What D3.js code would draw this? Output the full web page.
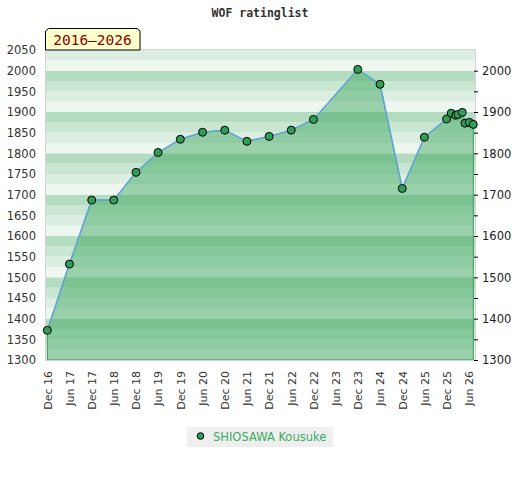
<!DOCTYPE html>
<html>
<head>
<meta charset="utf-8">
<script src="https://cdn.jsdelivr.net/npm/d3@7"></script>
<style>
body { margin: 0; background: #fff; }
</style>
</head>
<body>
<script>
var w = 520, h = 480;

// rating history
var dates = ["2016-12-01", "2017-06-01", "2017-12-01", "2018-06-01", "2018-12-01", "2019-06-01",
    "2019-12-01", "2020-06-01", "2020-12-01", "2021-06-01", "2021-12-01", "2022-06-01",
    "2022-12-01", "2023-12-01", "2024-06-01", "2024-12-01", "2025-06-01", "2025-12-01",
    "2026-01-08", "2026-02-14", "2026-03-05", "2026-04-09", "2026-05-02", "2026-06-06", "2026-07-09"];
var ratings = [1372, 1532, 1687, 1687, 1754, 1802, 1834, 1851, 1856, 1829, 1841, 1856,
    1882, 2003, 1967, 1715, 1839, 1883, 1897, 1892, 1894, 1899, 1873, 1875, 1870];

var playerName = "SHIOSAWA Kousuke";
var titleText = "WOF ratinglist";
var periodText = "2016–2026";

var tickDates = ["2016-12-01", "2017-06-01", "2017-12-01", "2018-06-01", "2018-12-01", "2019-06-01",
    "2019-12-01", "2020-06-01", "2020-12-01", "2021-06-01", "2021-12-01", "2022-06-01",
    "2022-12-01", "2023-06-01", "2023-12-01", "2024-06-01", "2024-12-01", "2025-06-01",
    "2025-12-01", "2026-06-01"];
var leftTicks = [1300, 1350, 1400, 1450, 1500, 1550, 1600, 1650, 1700, 1750, 1800, 1850, 1900, 1950, 2000, 2050];
var rightTicks = [1300, 1400, 1500, 1600, 1700, 1800, 1900, 2000];
var rightMinor = [1350, 1450, 1550, 1650, 1750, 1850, 1950];

var bandColors = ["#eef6f0", "#dcede2", "#c8e6d1", "#b4dcc1"];

var parse = d3.timeParse("%Y-%m-%d");
var data = dates.map((d, i) => ({date: parse(d), value: ratings[i]}));

var pLeft = 46, pRight = 475, pTop = 50, pBottom = 360;

var svg = d3.select("body")
    .append("svg")
    .attr("width", w)
    .attr("height", h);

var xScale = d3.scaleTime()
    .domain([parse("2016-11-20"), parse("2026-07-23")])
    .range([pLeft, pRight]);

var yScale = d3.scaleLinear()
    .domain([1300, 2050])
    .range([pBottom, pTop]);

svg.append("text")
    .text(titleText)
    .attr("x", 260)
    .attr("y", 17)
    .attr("text-anchor", "middle")
    .style("font-family", "DejaVu Sans Mono")
    .style("font-weight", "bold")
    .style("font-size", "11.5px")
    .style("fill", "#333");

// striped background, 25 points per band
var bands = d3.range(1300, 2050, 25);
svg.append("g")
    .selectAll("rect")
    .data(bands)
    .enter()
    .append("rect")
    .attr("x", pLeft)
    .attr("width", pRight - pLeft)
    .attr("y", d => yScale(d + 25))
    .attr("height", d => yScale(d) - yScale(d + 25))
    .style("fill", d => bandColors[(d % 100) / 25]);

var area = d3.area()
    .x(d => xScale(d.date))
    .y0(yScale(1300))
    .y1(d => yScale(d.value));

svg.append("path")
    .datum(data)
    .attr("d", area)
    .style("fill", "rgb(47,162,83)")
    .style("fill-opacity", 0.44)
    .style("stroke", "#3a9a5a")
    .style("stroke-width", 1);

svg.append("rect")
    .attr("x", pLeft - 0.5)
    .attr("y", pTop - 0.5)
    .attr("width", pRight - pLeft + 1)
    .attr("height", pBottom - pTop + 1)
    .style("fill", "none")
    .style("stroke", "#d4d4d4")
    .style("stroke-width", 1);

var line = d3.line()
    .x(d => xScale(d.date))
    .y(d => yScale(d.value));

svg.append("path")
    .datum(data)
    .attr("d", line)
    .style("fill", "none")
    .style("stroke", "#62a6dc")
    .style("stroke-width", 1.5);

svg.append("g")
    .selectAll("circle")
    .data(data)
    .enter()
    .append("circle")
    .attr("cx", d => xScale(d.date))
    .attr("cy", d => yScale(d.value))
    .attr("r", 4)
    .style("fill", "#2f9e57")
    .style("stroke", "#000")
    .style("stroke-width", 1);

// axes
var yAxisLeft = d3.axisLeft(yScale)
    .tickValues(leftTicks)
    .tickSize(0)
    .tickPadding(10)
    .tickFormat(d3.format("d"));

var gl = svg.append("g")
    .attr("transform", "translate(" + pLeft + ",0)")
    .call(yAxisLeft);
gl.select(".domain").remove();
gl.selectAll("text")
    .style("font-family", "DejaVu Sans")
    .style("font-size", "11.5px")
    .style("fill", "#333");

var yAxisRight = d3.axisRight(yScale)
    .tickValues(rightTicks)
    .tickSize(4)
    .tickPadding(4)
    .tickFormat(d3.format("d"));

var gr = svg.append("g")
    .attr("transform", "translate(" + (pRight - 1) + ",0)")
    .call(yAxisRight);
gr.select(".domain").remove();
gr.selectAll("text")
    .style("font-family", "DejaVu Sans")
    .style("font-size", "11.5px")
    .style("fill", "#222");

var gm = svg.append("g")
    .attr("transform", "translate(" + (pRight - 1) + ",0)")
    .call(d3.axisRight(yScale).tickValues(rightMinor).tickSize(4).tickFormat(""));
gm.select(".domain").remove();

var xAxis = d3.axisBottom(xScale)
    .tickValues(tickDates.map(parse))
    .tickSize(0)
    .tickFormat(d3.timeFormat("%b %y"));

var gx = svg.append("g")
    .attr("transform", "translate(0," + pBottom + ")")
    .call(xAxis);
gx.select(".domain").remove();
gx.selectAll("text")
    .attr("transform", "translate(0,11) rotate(-90)")
    .attr("x", 0)
    .attr("y", 0)
    .attr("dy", "0.35em")
    .attr("text-anchor", "end")
    .style("font-family", "DejaVu Sans")
    .style("font-size", "11px")
    .style("fill", "#333");

// period label
svg.append("path")
    .attr("d", "M45.5,50 V31 L48.5,28.5 H137 L140,31 V50 Z")
    .style("fill", "#ffffcc")
    .style("stroke", "#000")
    .style("stroke-width", 1);

svg.append("text")
    .text(periodText)
    .attr("x", 92.5)
    .attr("y", 45)
    .attr("text-anchor", "middle")
    .style("font-family", "DejaVu Sans Mono")
    .style("font-size", "14.5px")
    .style("fill", "#8b0000");

// legend
svg.append("rect")
    .attr("x", 187)
    .attr("y", 427)
    .attr("width", 146)
    .attr("height", 20)
    .style("fill", "#efefef");

svg.append("circle")
    .attr("cx", 200.5)
    .attr("cy", 436)
    .attr("r", 3.3)
    .style("fill", "#2f9e57")
    .style("stroke", "#000")
    .style("stroke-width", 1);

svg.append("text")
    .text(playerName)
    .attr("x", 213)
    .attr("y", 440.5)
    .style("font-family", "DejaVu Sans")
    .style("font-size", "11.5px")
    .style("fill", "#3aab62");
</script>
</body>
</html>
